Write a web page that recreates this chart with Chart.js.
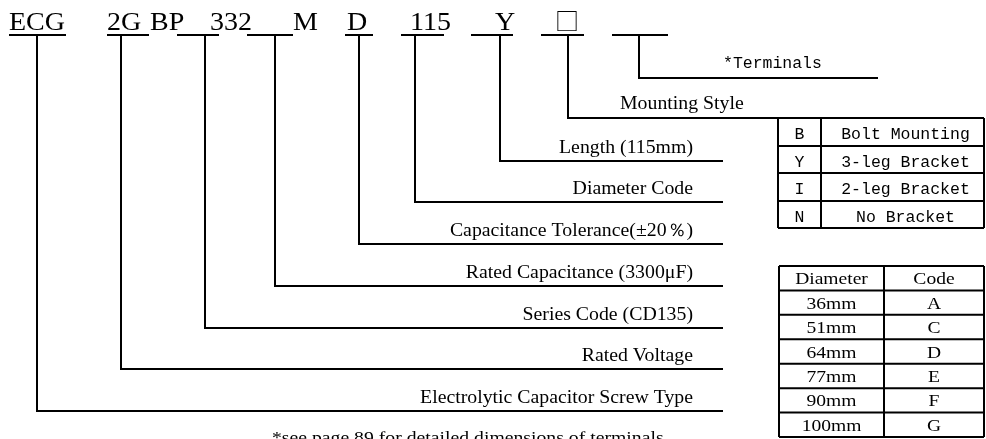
<!DOCTYPE html>
<html>
<head>
<meta charset="utf-8">
<script src="https://cdn.jsdelivr.net/npm/chart.js@4"></script>
<style>
  html, body { margin: 0; padding: 0; background: #fff; }
  #chart { display: block; }
</style>
</head>
<body>
<canvas id="chart" width="986" height="439"></canvas>
<script>
// part number segments (top row)
const codes = ['ECG', '2G', 'BP', '332', 'M', 'D', '115', 'Y', '□'];
const codeX = [9, 107, 150, 210, 293, 347, 410, 495, 557];

// fields, from the top level down
const fieldLabels = ['*Terminals', 'Mounting Style', 'Length (115mm)', 'Diameter Code',
  'Capacitance Tolerance(±20％)', 'Rated Capacitance (3300μF)', 'Series Code (CD135)',
  'Rated Voltage', 'Electrolytic Capacitor Screw Type'];
const leaderX = [639, 568, 500, 415, 359, 275, 205, 121, 37];
const levelY = [78, 118, 161, 202, 244, 286, 328, 369, 411];
const levelEnd = [878, 778, 723, 723, 723, 723, 723, 723, 723];
const underStart = [612, 541, 471, 401, 345, 247, 177, 107, 9];
const underEnd = [668, 584, 513, 444, 373, 293, 219, 149, 66];

// mounting style table
const mountCodes = ['B', 'Y', 'I', 'N'];
const mountNames = ['Bolt Mounting', '3-leg Bracket', '2-leg Bracket', 'No Bracket'];

// diameter table
const diaHeader = ['Diameter', 'Code'];
const diameters = ['36mm', '51mm', '64mm', '77mm', '90mm', '100mm'];
const diaCodes = ['A', 'C', 'D', 'E', 'F', 'G'];

const footnote = '*see page 89 for detailed dimensions of terminals';

const UNDER_Y = 35;
const INK = '#000';
const SERIF = "'Liberation Serif', 'Times New Roman', serif";
const MONO = "'Liberation Mono', 'DejaVu Sans Mono', monospace";

function lineDs(pts) {
  return {
    data: pts,
    showLine: true,
    borderColor: INK,
    borderWidth: 2,
    pointRadius: 0,
    fill: false,
    tension: 0
  };
}

const datasets = [];
for (let i = 0; i < fieldLabels.length; i++) {
  datasets.push(lineDs([{x: underStart[i], y: UNDER_Y}, {x: underEnd[i], y: UNDER_Y}]));
  datasets.push(lineDs([
    {x: leaderX[i], y: UNDER_Y},
    {x: leaderX[i], y: levelY[i]},
    {x: levelEnd[i], y: levelY[i]}
  ]));
}

function txt(ctx, s, x, y, font, align, hs) {
  ctx.save();
  ctx.translate(x, y);
  ctx.scale(hs || 1, 1);
  ctx.font = font;
  ctx.textAlign = align || 'left';
  ctx.fillStyle = INK;
  ctx.fillText(s, 0, 0);
  ctx.restore();
}

function grid(ctx, px, py, cols, rows) {
  ctx.save();
  ctx.strokeStyle = INK;
  ctx.lineWidth = 2;
  ctx.beginPath();
  rows.forEach(r => { ctx.moveTo(px(cols[0]), py(r)); ctx.lineTo(px(cols[cols.length - 1]), py(r)); });
  cols.forEach(c => { ctx.moveTo(px(c), py(rows[0])); ctx.lineTo(px(c), py(rows[rows.length - 1])); });
  ctx.stroke();
  ctx.restore();
}

const labelsPlugin = {
  id: 'labels',
  afterDraw(chart) {
    const ctx = chart.ctx;
    const px = v => chart.scales.x.getPixelForValue(v);
    const py = v => chart.scales.y.getPixelForValue(v);

    // code letters
    codes.forEach((c, i) => {
      if (c === '□') {
        txt(ctx, c, px(codeX[i]) - 2, py(30), "24px 'Noto Sans CJK SC', sans-serif", 'left', 1);
      } else {
        txt(ctx, c, px(codeX[i]), py(30), '25px ' + SERIF, 'left', 1.12);
      }
    });

    // field labels
    txt(ctx, fieldLabels[0], px(723), py(levelY[0] - 10), '16px ' + MONO, 'left', 1.03);
    txt(ctx, fieldLabels[1], px(620), py(levelY[1] - 9), '18px ' + SERIF, 'left', 1.1);
    for (let i = 2; i < fieldLabels.length; i++) {
      txt(ctx, fieldLabels[i], px(693), py(levelY[i] - 8), '18px ' + SERIF, 'right', 1.1);
    }

    // mounting style table
    const mCols = [778, 821, 984];
    const mRows = [118, 146, 173, 201, 228];
    grid(ctx, px, py, mCols, mRows);
    mountCodes.forEach((c, i) => {
      const yc = (mRows[i] + mRows[i + 1]) / 2 + 7;
      txt(ctx, c, px((mCols[0] + mCols[1]) / 2), py(yc), '16px ' + MONO, 'center', 1.03);
      txt(ctx, mountNames[i], px((mCols[1] + mCols[2]) / 2 + 3), py(yc), '16px ' + MONO, 'center', 1.03);
    });

    // diameter table
    const dCols = [779, 884, 984];
    const dRows = [266];
    for (let i = 0; i <= diameters.length; i++) dRows.push(266 + (i + 1) * 171 / 7);
    grid(ctx, px, py, dCols, dRows);
    const cells = [diaHeader].concat(diameters.map((d, i) => [d, diaCodes[i]]));
    cells.forEach((row, i) => {
      const yc = (dRows[i] + dRows[i + 1]) / 2 + 6;
      txt(ctx, row[0], px((dCols[0] + dCols[1]) / 2), py(yc), '17px ' + SERIF, 'center', 1.15);
      txt(ctx, row[1], px((dCols[1] + dCols[2]) / 2), py(yc), '17px ' + SERIF, 'center', 1.15);
    });

    // footnote
    txt(ctx, footnote, px(272), py(443), '17px ' + SERIF, 'left', 1.16);
  }
};

new Chart(document.getElementById('chart').getContext('2d'), {
  type: 'scatter',
  data: { datasets: datasets },
  options: {
    responsive: false,
    animation: false,
    layout: { padding: 0 },
    plugins: { legend: { display: false }, tooltip: { enabled: false } },
    scales: {
      x: { type: 'linear', min: 0, max: 986, display: false },
      y: { type: 'linear', min: 0, max: 439, reverse: true, display: false }
    }
  },
  plugins: [labelsPlugin]
});
</script>
</body>
</html>
